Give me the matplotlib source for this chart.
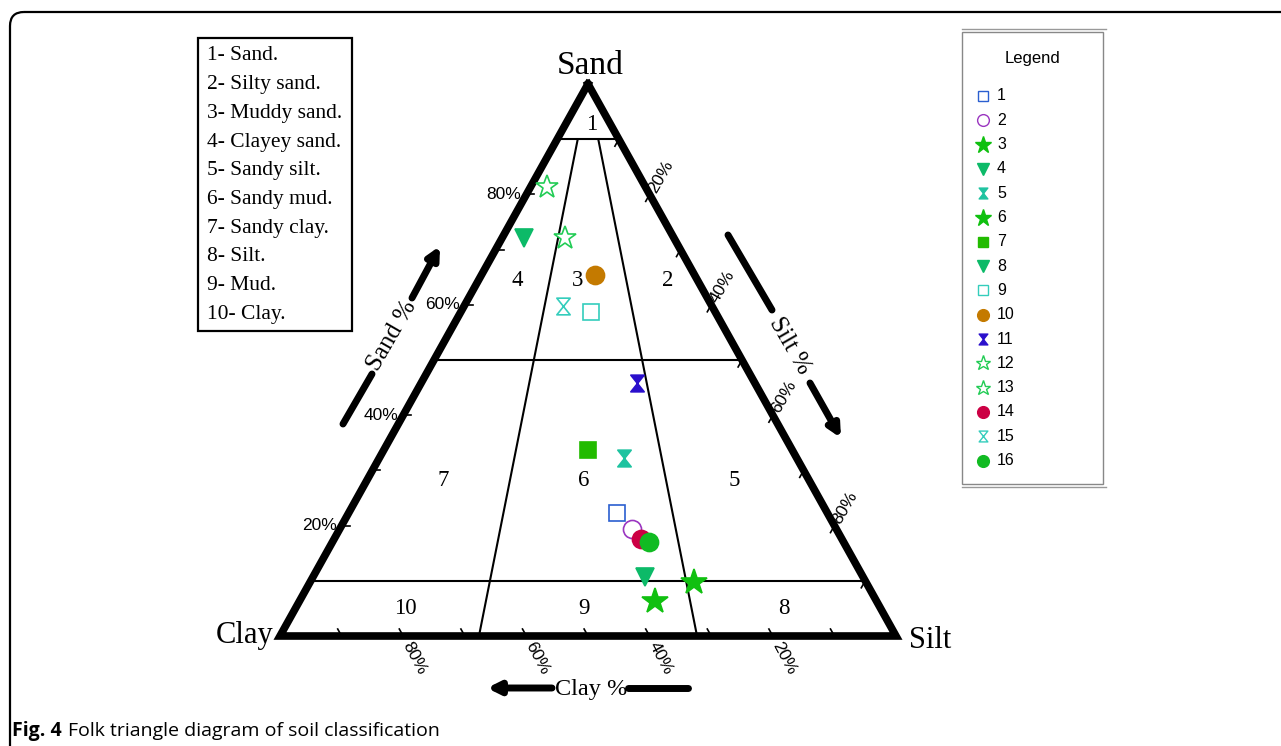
"""Folk triangle diagram of soil classification"""

import numpy as np
import matplotlib.pyplot as plt
from matplotlib.path import Path
from matplotlib.patches import FancyBboxPatch, Rectangle

# sample compositions (%)
samples = [str(i) for i in range(1, 17)]
sand = np.array([22.3, 19.4, 9.8, 72.1, 32.2, 6.3, 33.7, 10.7,
                 58.7, 65.4, 45.8, 81.3, 72.1, 17.6, 59.8, 17.0])
silt = np.array([43.6, 47.5, 62.3, 3.6, 39.7, 57.7, 33.1, 53.9,
                 21.1, 18.4, 35.0, 2.7, 10.2, 49.8, 16.0, 51.4])
clay = 100 - sand - silt

classes = ['1- Sand.', '2- Silty sand.', '3- Muddy sand.', '4- Clayey sand.',
           '5- Sandy silt.', '6- Sandy mud.', '7- Sandy clay.', '8- Silt.',
           '9- Mud.', '10- Clay.']

# class boundaries: sand levels, and silt share of mud at top / bottom
sand_levels = [90, 50, 10]
ratio_top = [1 / 3, 2 / 3]
ratio_bottom = [0.323, 0.677]

# hourglass marker
hourglass = Path([(-0.8, 1), (0.8, 1), (0, 0), (-0.8, 1),
                  (-0.8, -1), (0.8, -1), (0, 0), (-0.8, -1)],
                 [Path.MOVETO, Path.LINETO, Path.LINETO, Path.CLOSEPOLY] * 2)

# marker, colour, filled, size
styles = [
    ('s', '#2a5fd0', False, 11),
    ('o', '#9a35c0', False, 13),
    ('*', '#10c010', True, 19),
    ('v', '#0cba68', True, 13),
    (hourglass, '#1ec3a0', True, 12),
    ('*', '#10c010', True, 19),
    ('s', '#22bb00', True, 11),
    ('v', '#0cba68', True, 13),
    ('s', '#34cdbc', False, 11),
    ('o', '#c47a00', True, 13),
    (hourglass, '#2a0fcc', True, 12),
    ('*', '#22cc55', False, 17),
    ('*', '#22cc55', False, 17),
    ('o', '#cc0044', True, 13),
    (hourglass, '#34cdbc', False, 12),
    ('o', '#11bb22', True, 13),
]

# triangle placement (pixels)
X0, Y0, W, H = 280, 636, 616, 552


def tern(s, si):
    s = np.asarray(s, float)
    si = np.asarray(si, float)
    return X0 + W * si / 100 + W / 2 * s / 100, Y0 - H * s / 100


fig = plt.figure(figsize=(12.81, 7.46), dpi=100)
ax = fig.add_axes([0, 0, 1, 1])
ax.set_xlim(0, 1281)
ax.set_ylim(746, 0)
ax.axis('off')

# outer frame
ax.add_patch(FancyBboxPatch((10, 12), 1400, 800,
                            boxstyle='round,pad=0,rounding_size=14',
                            fc='none', ec='black', lw=1.6, clip_on=True))

serif = 'Liberation Serif'
sans = 'Liberation Sans'

# triangle outline
tx, ty = tern([100, 0, 0, 100], [0, 0, 100, 0])
ax.plot(tx, ty, color='black', lw=5.5, solid_joinstyle='miter', zorder=3)

# class boundaries
for s in sand_levels:
    lx, ly = tern([s, s], [0, 100 - s])
    ax.plot(lx, ly, color='black', lw=1.5, zorder=2)
for rt, rb in zip(ratio_top, ratio_bottom):
    lx, ly = tern([90, 0], [10 * rt, 100 * rb])
    ax.plot(lx, ly, color='black', lw=1.5, zorder=2)

# ticks
L = 8
for v in range(10, 100, 10):
    x, y = tern(v, 0)
    ax.plot([x, x + L], [y, y], color='black', lw=1.2)
    x, y = tern(100 - v, v)
    ax.plot([x, x - L * 0.487], [y, y + L * 0.873], color='black', lw=1.2)
    x, y = tern(0, 100 - v)
    ax.plot([x, x - L * 0.487], [y, y - L * 0.873], color='black', lw=1.2)

for v in (20, 40, 60, 80):
    x, y = tern(v, 0)
    ax.text(x - 5, y, f'{v}%', ha='right', va='center', fontsize=12.5, family=sans)
    x, y = tern(100 - v, v)
    ax.text(x + 11, y - 18, f'{v}%', ha='center', va='center', rotation=60,
            fontsize=12.5, family=sans)
    x, y = tern(0, 100 - v)
    ax.text(x + 11, y + 22, f'{v}%', ha='center', va='center', rotation=-62,
            fontsize=12.5, family=sans)

# vertex labels
ax.text(590, 66, 'Sand', ha='center', va='center', fontsize=24, family=serif)
ax.text(245, 636, 'Clay', ha='center', va='center', fontsize=22, family=serif)
ax.text(930, 640, 'Silt', ha='center', va='center', fontsize=22, family=serif)

# class numbers
num_pos = {'1': (592, 124), '2': (668, 280), '3': (578, 280), '4': (517, 281),
           '5': (734, 481), '6': (584, 481), '7': (443, 481), '8': (784, 608),
           '9': (584, 608), '10': (405, 608)}
for k, (x, y) in num_pos.items():
    ax.text(x, y, k, ha='center', va='center', fontsize=16.5, family=serif)

# axis arrows
arrow_kw = dict(arrowstyle='-|>,head_length=0.7,head_width=0.35', lw=5,
                color='black', shrinkA=0, shrinkB=0)
ax.plot([343, 372], [424, 374], color='black', lw=5, solid_capstyle='round')
ax.annotate('', xy=(440, 246), xytext=(412, 298), arrowprops=arrow_kw)
ax.text(392, 336, 'Sand %', rotation=60, ha='center', va='center',
        fontsize=18, family=serif)

ax.plot([728, 772], [235, 310], color='black', lw=5, solid_capstyle='round')
ax.annotate('', xy=(841, 438), xytext=(810, 383), arrowprops=arrow_kw)
ax.text(790, 346, 'Silt %', rotation=-60, ha='center', va='center',
        fontsize=18, family=serif)

ax.plot([628, 688], [688, 688], color='black', lw=5, solid_capstyle='round')
ax.annotate('', xy=(487, 688), xytext=(552, 688), arrowprops=arrow_kw)
ax.text(591, 690, 'Clay %', ha='center', va='center', fontsize=17.5, family=serif)

# sample points
px, py = tern(sand, silt)
for i, (m, c, filled, ms) in enumerate(styles):
    ax.plot(px[i], py[i], marker=m, ms=ms, mec=c, mew=1.2,
            mfc=c if filled else 'white', ls='none', zorder=4)

# class list box
ax.add_patch(Rectangle((198, 38), 154, 293, fc='white', ec='black', lw=1.6))
for i, t in enumerate(classes):
    ax.text(207, 56 + i * 28.7, t, ha='left', va='center', fontsize=15.5,
            family=serif)

# sample legend box
ax.plot([962, 1106], [29, 29], color='#999999', lw=1)
ax.plot([962, 1106], [487, 487], color='#999999', lw=1)
ax.add_patch(Rectangle((962, 32), 141, 452, fc='white', ec='#888888', lw=1))
ax.text(1032, 58, 'Legend', ha='center', va='center', fontsize=12, family=sans)
for i, (m, c, filled, ms) in enumerate(styles):
    y = 96 + i * 24.3
    ax.plot(983, y, marker=m, ms=ms * 0.65, mec=c, mew=1,
            mfc=c if filled else 'white', ls='none')
    ax.text(997, y, samples[i], ha='left', va='center', fontsize=11.5, family=sans)

# caption
ax.text(12, 731, 'Fig. 4', ha='left', va='center', fontsize=14,
        family='Open Sans', weight='bold')
ax.text(68, 731, 'Folk triangle diagram of soil classification', ha='left',
        va='center', fontsize=14, family='Open Sans')

fig.savefig('out.png', dpi=100)
